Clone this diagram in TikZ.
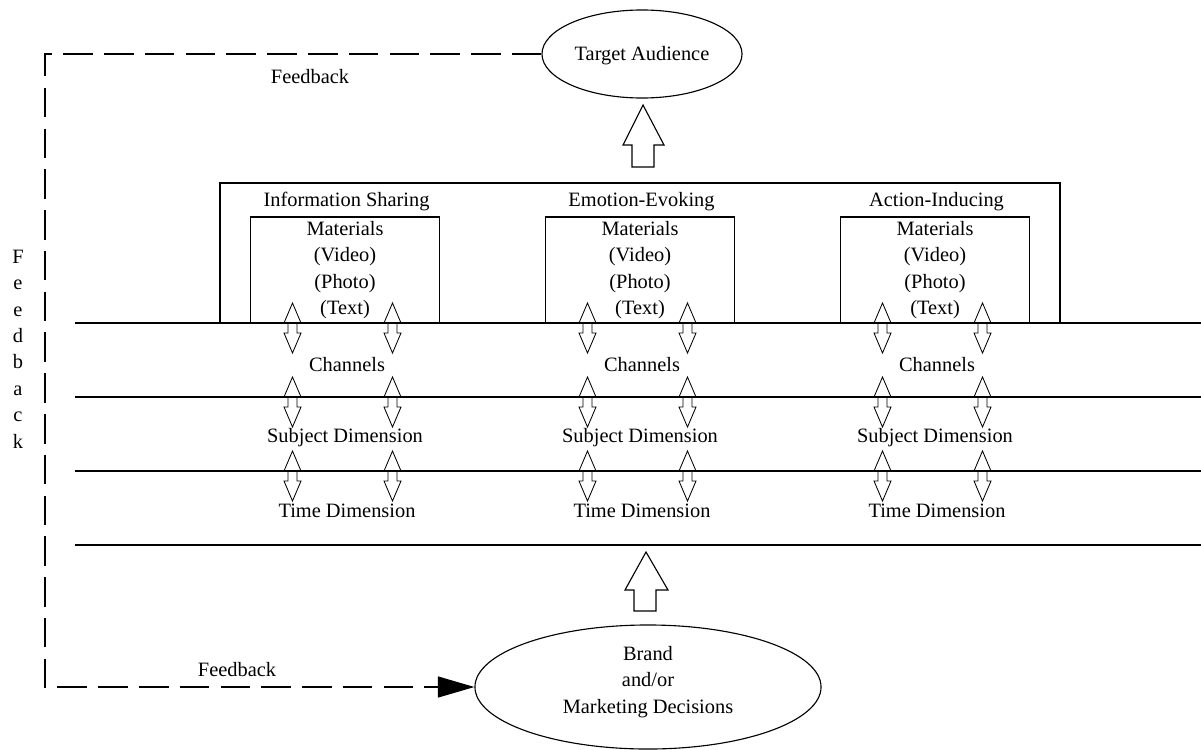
\documentclass[tikz,border=0pt]{standalone}
\usepackage{fontspec}
\setmainfont{Liberation Serif}
\usetikzlibrary{arrows.meta,shapes.geometric}
\tikzset{
  txt/.style={font=\fontsize{14.5}{18.8}\selectfont, inner sep=0pt, align=center},
  fb/.style={line width=0.8pt, dash pattern=on 21pt off 8pt},
  dblarrow/.pic={\draw[line width=0.6pt] (0,0) -- (8.5,20) -- (4.5,20) -- (4.5,30) -- (8.5,30)
      -- (0,50) -- (-8.5,30) -- (-4.5,30) -- (-4.5,20) -- (-8.5,20) -- cycle;}
}
\begin{document}
\begin{tikzpicture}[x=0.025cm,y=-0.025cm,line width=0.8pt]
    \useasboundingbox (0,0) rectangle (1201,749);
    % ends of the chain
    \node[draw,ellipse,minimum width=5cm,minimum height=2.2cm] (ta) at (642,54) {};
    \node[txt] (tatext) at (642,56) {Target Audience};
    \node[draw,ellipse,minimum width=8.65cm,minimum height=3.1cm] (bd) at (648,687) {};
    \node[txt] (bdtext) at (648,682) {Brand\\and/or\\Marketing Decisions};
    % big arrows
    \draw (643,105) -- (664,145) -- (654,145) -- (654,167) -- (632,167) -- (632,145) -- (623,145) -- cycle;
    \draw (646,552) -- (668,590) -- (656,590) -- (656,611) -- (634,611) -- (634,590) -- (625,590) -- cycle;
    % layers
    \foreach \y in {323,397,471,545}
        \draw (75,\y) -- (1201,\y);
    \draw (220,323) -- (220,183) -- (1060,183) -- (1060,323);
    \foreach \c/\title [count=\i] in {345/Information Sharing,640/Emotion-Evoking,935/Action-Inducing}{
        \draw (\c-94.5,323) |- (\c+94.5,217) -- (\c+94.5,323);
        \node[txt] (title\i) at (\c+1.5,202) {\title};
        \node[txt] (mat\i) at (\c,270) {Materials\\(Video)\\(Photo)\\(Text)};
        \node[txt] (ch\i) at (\c+2,365) {Channels};
        \node[txt] (sd\i) at (\c,438) {Subject Dimension};
        \node[txt] (td\i) at (\c+2,511) {Time Dimension};
        \foreach \y in {303,377,451}{
            \pic at (\c-52.5,\y) {dblarrow};
            \pic at (\c+47.5,\y) {dblarrow};
        }
    }
    % feedback loop
    \draw[fb,-{Triangle[length=26pt,width=15pt]}] (ta.west) -- (45,54) -- (45,687) -- (bd.west);
    \node[txt] (fb1) at (310,77) {Feedback};
    \node[txt] (fb2) at (237,670) {Feedback};
    \node[txt] (fb3) at (18,349) {F\\e\\e\\d\\b\\a\\c\\k};
\end{tikzpicture}
\end{document}
